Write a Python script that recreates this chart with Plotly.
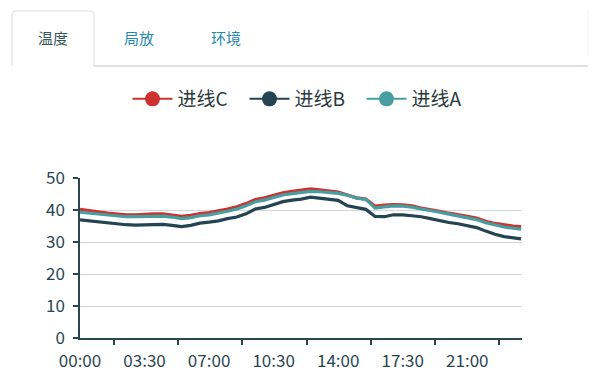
import plotly.graph_objects as go

# ---- data (minutes since 00:00, 30-min steps + last sample) ----
minutes = [i * 30 for i in range(48)] + [1435]
line_c = [40.2, 39.9, 39.4, 39.0, 38.7, 38.5, 38.5, 38.7, 38.8, 38.8,
          38.5, 38.0, 38.3, 38.9, 39.2, 39.7, 40.3, 41.0, 42.0, 43.3,
          43.8, 44.6, 45.4, 45.8, 46.1, 46.6, 46.3, 46.0, 45.6, 44.7,
          43.8, 43.4, 41.2, 41.5, 41.7, 41.6, 41.3, 40.6, 40.2, 39.6,
          39.0, 38.6, 38.0, 37.5, 36.5, 35.8, 35.3, 35.0, 34.8]
line_b = [36.9, 36.6, 36.2, 35.8, 35.6, 35.4, 35.3, 35.4, 35.5, 35.5,
          35.2, 34.8, 35.2, 35.9, 36.2, 36.6, 37.3, 37.8, 38.8, 40.3,
          40.8, 41.8, 42.6, 43.1, 43.4, 44.0, 43.7, 43.5, 43.0, 41.3,
          40.7, 40.2, 38.0, 37.9, 38.5, 38.5, 38.2, 37.9, 37.3, 36.6,
          36.1, 35.7, 35.0, 34.5, 33.4, 32.4, 31.7, 31.2, 31.0]
line_a = [39.3, 39.0, 38.6, 38.3, 38.1, 37.9, 37.9, 38.0, 38.1, 38.1,
          37.8, 37.3, 37.6, 38.2, 38.5, 39.0, 39.6, 40.3, 41.3, 42.6,
          43.1, 43.9, 44.7, 45.1, 45.4, 45.8, 45.7, 45.5, 45.2, 44.6,
          43.7, 43.3, 40.6, 41.0, 41.3, 41.2, 40.9, 40.3, 39.9, 39.3,
          38.7, 38.2, 37.6, 37.0, 36.0, 35.3, 34.7, 34.3, 34.0]
series_names = ["进线C", "进线B", "进线A"]
series_colors = ["#cc3330", "#234450", "#479ea1"]
tick_label_vals = [0, 210, 420, 630, 840, 1050, 1260]
tick_label_text = ["00:00", "03:30", "07:00", "10:30", "14:00", "17:30", "21:00"]
tick_mark_vals = [110, 319, 528, 737, 946, 1155, 1364]
tab_labels = ["温度", "局放", "环境"]

W, H = 606, 384
L, R, T, B = 80, 522, 178, 338
FONT = "Noto Sans CJK SC"
AXIS = "#2a4650"

def px(x):
    return (x - L) / (R - L)

def py(y):
    return (B - y) / (B - T)

fig = go.Figure()
for name, ys, col in zip(series_names, [line_c, line_b, line_a], series_colors):
    fig.add_trace(go.Scatter(x=minutes, y=ys, mode="lines", name=name,
                             line=dict(color=col, width=3.2), showlegend=False))
for name, col in zip(series_names, series_colors):
    fig.add_trace(go.Scatter(x=[None], y=[None], mode="lines+markers", name=name,
                             xaxis="x2",
                             line=dict(color=col, width=2),
                             marker=dict(color=col, size=15)))

shapes = []
# active tab box
shapes.append(dict(type="path", xref="paper", yref="paper",
                   path=(f"M {px(12)} {py(66)} L {px(12)} {py(15)} "
                         f"Q {px(12)} {py(11)} {px(16)} {py(11)} "
                         f"L {px(90)} {py(11)} Q {px(94)} {py(11)} {px(94)} {py(15)} "
                         f"L {px(94)} {py(66)}"),
                   line=dict(color="#dcdfe3", width=1.2), layer="above"))
shapes.append(dict(type="line", xref="paper", yref="paper",
                   x0=px(94), x1=px(588), y0=py(66), y1=py(66),
                   line=dict(color="#dde1e6", width=2)))
shapes.append(dict(type="line", xref="paper", yref="paper",
                   x0=px(588), x1=px(588), y0=py(10), y1=py(56),
                   line=dict(color="#eef1f4", width=1)))

annotations = []
for lab, cx, col in zip(tab_labels, [53, 139, 226], ["#38595c", "#2489ad", "#2489ad"]):
    annotations.append(dict(text=lab, x=px(cx), y=py(37), xref="paper", yref="paper",
                            showarrow=False, xanchor="center", yanchor="middle",
                            font=dict(family=FONT, size=15, color=col)))

fig.update_layout(
    width=W, height=H,
    margin=dict(l=L, r=W - R, t=T, b=H - B, pad=0),
    paper_bgcolor="white", plot_bgcolor="white",
    font=dict(family=FONT, color=AXIS),
    showlegend=True,
    legend=dict(orientation="h", xref="container", yref="container",
                x=0.5, xanchor="center", y=1 - 99 / H, yanchor="middle",
                font=dict(family=FONT, size=19, color="#2b3a3d"),
                itemwidth=40,
                entrywidth=62, entrywidthmode="pixels",
                itemclick=False, traceorder="normal"),
    xaxis=dict(range=[0, 1438], tickvals=tick_label_vals, ticktext=tick_label_text,
               ticks="outside", ticklen=7, tickcolor="rgba(0,0,0,0)",
               showline=True, linecolor=AXIS, linewidth=1.5,
               showgrid=False, zeroline=False,
               tickfont=dict(family=FONT, size=17, color=AXIS)),
    xaxis2=dict(range=[0, 1438], overlaying="x", anchor="y", side="bottom",
                tickvals=tick_mark_vals, ticks="outside", ticklen=6, tickwidth=1.5,
                tickcolor=AXIS, showticklabels=False, showline=False,
                showgrid=False, zeroline=False),
    yaxis=dict(range=[0, 50], dtick=10, ticks="outside", ticklen=5, tickwidth=1.5,
               tickcolor=AXIS, showline=True, linecolor=AXIS, linewidth=1.5,
               gridcolor="#d3d6d6", gridwidth=1, zeroline=False,
               ticklabelstandoff=5,
               tickfont=dict(family=FONT, size=17, color=AXIS)),
    shapes=shapes, annotations=annotations,
)

fig.write_html("out.html")
